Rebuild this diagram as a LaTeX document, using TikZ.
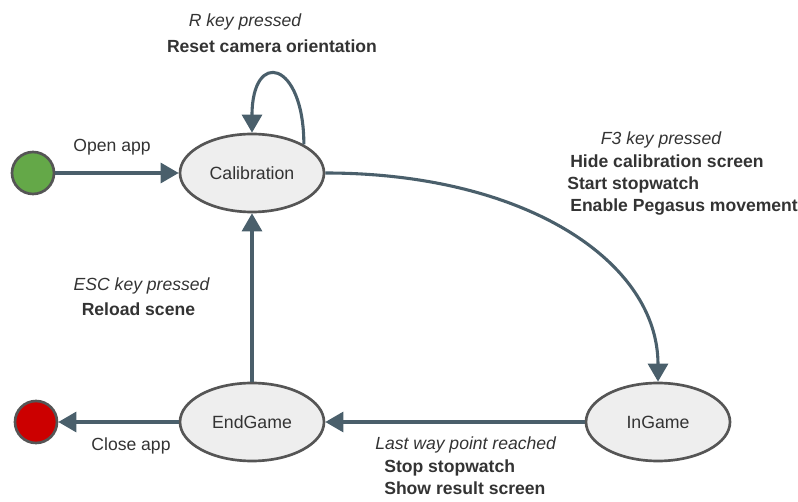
\documentclass[tikz,border=0pt]{standalone}
\usepackage{fontspec}
\setmainfont{Liberation Sans}
\usepackage{tikz}
\usetikzlibrary{shapes.geometric, arrows.meta, positioning}
\definecolor{edgeslate}{RGB}{74,95,107}
\definecolor{statefill}{RGB}{238,238,238}
\definecolor{bordercolor}{RGB}{85,85,85}
\definecolor{startgreen}{RGB}{100,168,72}
\definecolor{stopred}{RGB}{204,0,0}
\definecolor{textgray}{RGB}{51,51,51}
\tikzset{
  base/.style     = {draw=bordercolor, line width=1.9pt, text=textgray,
                     font=\fontsize{12.6}{15}\selectfont},
  state/.style    = {base, ellipse, fill=statefill, inner sep=0pt,
                     minimum width=3.6cm, minimum height=1.95cm},
  terminal/.style = {base, circle, inner sep=0pt, minimum size=1.05cm},
  trans/.style    = {-{Triangle[length=0.45cm, width=0.5cm]}, line width=2.2pt, color=edgeslate},
  lbl/.style      = {inner sep=0pt, text=textgray, text height=0.716em, text depth=0pt,
                     font=\fontsize{12.5}{15}\selectfont},
  event/.style    = {lbl, font=\fontsize{12.5}{15}\selectfont\itshape},
  action/.style   = {lbl, font=\fontsize{12.5}{15}\selectfont\bfseries},
}

\begin{document}
\begin{tikzpicture}
  \useasboundingbox (0,0) rectangle (19.95,12.525);

  \node[terminal, fill=startgreen] (start) at (0.825,8.2) {};
  \node[state] (calib)   at (6.3,8.2)    {Calibration};
  \node[state] (ingame)  at (16.45,1.975) {InGame};
  \node[state] (endgame) at (6.3,1.975)  {EndGame};
  \node[terminal, fill=stopred] (stop) at (0.9,1.975) {};

  % transitions
  \draw[trans] (start) -- (calib);
  \draw[trans] (calib.north east) .. controls +(0,2.1) and +(0,2.1) .. (calib.north);
  \draw[trans] (calib.east) .. controls +(5,0) and +(0,3) .. (ingame.north);
  \draw[trans] (ingame) -- (endgame);
  \draw[trans] (endgame) -- (calib);
  \draw[trans] (endgame) -- (stop);

  % labels
  \node[lbl] (openlbl) at (2.8,8.86) {Open app};
  \node[event]  (rkey)   at (6.125,12.0)  {R key pressed};
  \node[action] (rreset) at (6.8,11.34)   {Reset camera orientation};
  \node[event]  (f3key)  at (16.525,9.05) {F3 key pressed};
  \node[action, anchor=west] (f3hide)  at (14.25,8.4625) {Hide calibration screen};
  \node[action, anchor=west] (f3start) at (14.175,7.925) {Start stopwatch};
  \node[action, anchor=west] (f3peg)   at (14.25,7.375)  {Enable Pegasus movement};
  \node[event]  (esckey)    at (3.54,5.4)   {ESC key pressed};
  \node[action] (escreload) at (3.46,4.775) {Reload scene};
  \node[lbl]    (closelbl)  at (3.275,1.4) {Close app};
  \node[event, anchor=west]  (lastpt)   at (9.375,1.425) {Last way point reached};
  \node[action, anchor=west] (laststop) at (9.6,0.8375) {Stop stopwatch};
  \node[action, anchor=west] (lastshow) at (9.6,0.3) {Show result screen};
\end{tikzpicture}
\end{document}
